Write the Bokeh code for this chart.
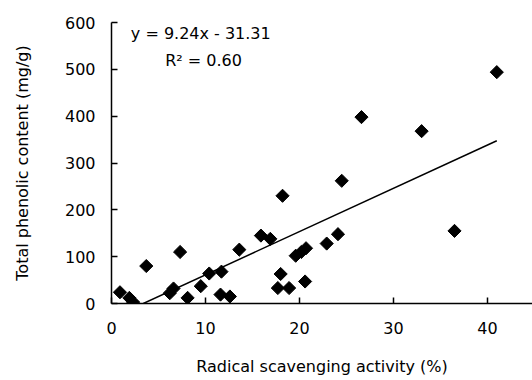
import math
from bokeh.plotting import figure
from bokeh.models import Range1d, FixedTicker, Label
from bokeh.embed import file_html
from bokeh.resources import INLINE

# Data
scavenging = [0.9, 1.9, 2.3, 3.7, 6.2, 6.6, 7.3, 8.1, 9.5, 10.4, 11.7, 11.6, 12.6,
              13.6, 15.9, 16.9, 18.2, 18.0, 17.7, 18.9, 20.6, 19.6, 20.2, 20.7,
              22.9, 24.1, 24.5, 26.6, 33.0, 36.5, 41.0]
phenolic = [24, 12, 3, 80, 22, 32, 110, 12, 37, 64, 68, 19, 15,
            115, 145, 138, 230, 63, 33, 33, 47, 102, 110, 118,
            128, 148, 262, 398, 368, 155, 494]
x_ticks = [0, 10, 20, 30, 40]
y_ticks = [0, 100, 200, 300, 400, 500, 600]
slope = 9.24
intercept = -31.31
eq_text = "y = 9.24x - 31.31"
r2_text = "R\u00b2 = 0.60"

FONT = "DejaVu Sans"

p = figure(width=532, height=380, output_backend="svg", toolbar_location=None,
           x_range=Range1d(0, 44.8), y_range=Range1d(0, 600),
           min_border_left=111, min_border_right=0, min_border_top=22,
           min_border_bottom=77)
p.outline_line_color = None
p.xgrid.visible = False
p.ygrid.visible = False
p.background_fill_color = "white"
p.border_fill_color = "white"

for ax in (p.xaxis[0], p.yaxis[0]):
    ax.axis_line_color = "black"
    ax.axis_line_width = 1.5
    ax.major_tick_line_color = "black"
    ax.major_tick_line_width = 1.5
    ax.major_tick_in = 6
    ax.major_tick_out = 0
    ax.minor_tick_line_color = None
    ax.major_label_text_font = FONT
    ax.major_label_text_font_size = "16px"
    ax.major_label_text_color = "black"
    ax.axis_label_text_font = FONT
    ax.axis_label_text_font_size = "16px"
    ax.axis_label_text_font_style = "normal"
    ax.axis_label_text_color = "black"

p.xaxis.ticker = FixedTicker(ticks=x_ticks)
p.yaxis.ticker = FixedTicker(ticks=y_ticks)
p.xaxis.axis_label = "Radical scavenging activity (%)"
p.yaxis.axis_label = "Total phenolic content (mg/g)"
p.xaxis.major_label_standoff = 18
p.xaxis.axis_label_standoff = 20
p.yaxis.major_label_standoff = 16
p.yaxis.axis_label_standoff = 30

x0 = -intercept / slope
x1 = max(scavenging)
p.line([x0, x1], [slope * x0 + intercept, slope * x1 + intercept],
       line_color="black", line_width=1.5)

p.scatter(scavenging, phenolic, marker="square", size=9.3, angle=math.pi / 4,
          fill_color="black", line_color="black")

p.add_layout(Label(x=9.5, y=576, text=eq_text, text_align="center",
                   text_baseline="middle", text_font=FONT,
                   text_font_size="16px", text_color="black"))
p.add_layout(Label(x=9.8, y=519, text=r2_text, text_align="center",
                   text_baseline="middle", text_font=FONT,
                   text_font_size="16px", text_color="black"))

open("out.html", "w").write(file_html(p, INLINE))
